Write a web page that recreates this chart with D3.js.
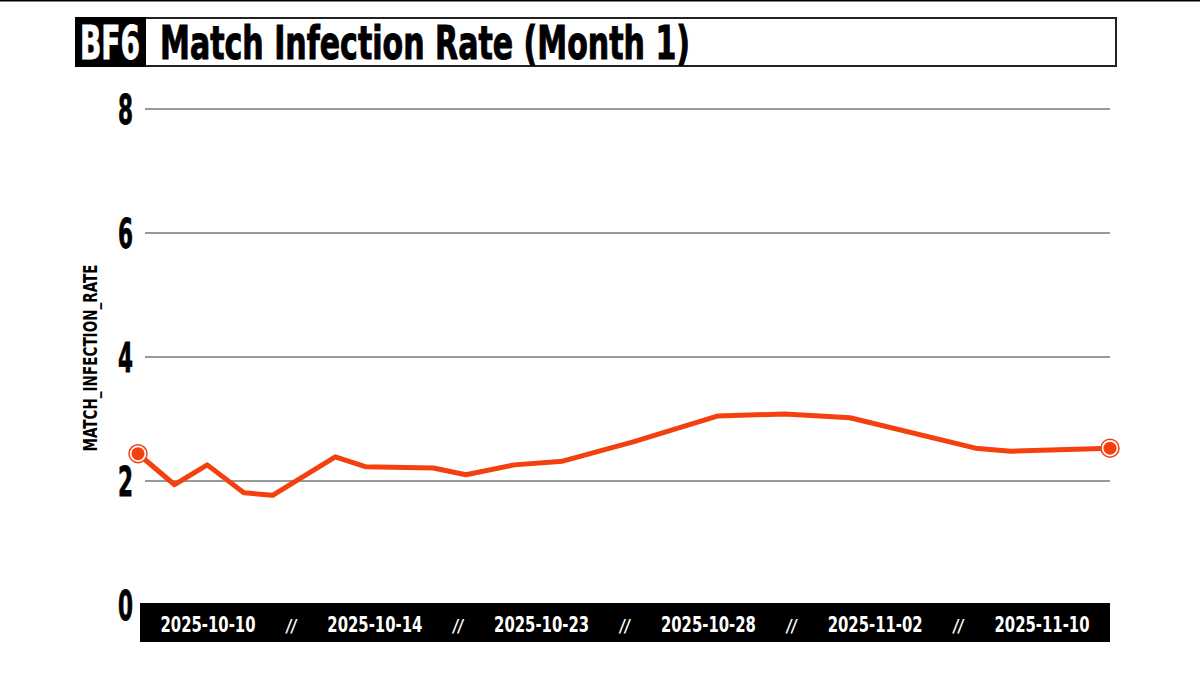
<!DOCTYPE html>
<html>
<head>
<meta charset="utf-8">
<script src="https://cdn.jsdelivr.net/npm/d3@7"></script>
<style>
  html, body { margin: 0; padding: 0; background: #fff; }
  svg { display: block; }
  text { font-family: "DejaVu Sans Condensed", "DejaVu Sans", sans-serif; font-weight: bold; }
</style>
</head>
<body>
<svg id="chart" width="1200" height="675"></svg>
<script>
// ---- data ----
const dates = ["2025-10-10T00:00","2025-10-11T04:00","2025-10-12T05:00","2025-10-13T09:00",
               "2025-10-14T07:00","2025-10-16T07:00","2025-10-17T06:00","2025-10-19T10:00",
               "2025-10-20T11:00","2025-10-22T00:00","2025-10-23T13:00","2025-10-25T19:00",
               "2025-10-28T12:00","2025-10-30T15:00","2025-11-01T17:00","2025-11-05T17:00",
               "2025-11-06T20:00","2025-11-10T00:00"];
const rates = [2.44, 1.94, 2.26, 1.81, 1.77, 2.39, 2.23, 2.21, 2.10, 2.26, 2.32, 2.63,
               3.05, 3.08, 3.02, 2.53, 2.48, 2.53];
const yTicks = [0, 2, 4, 6, 8];
const xTickLabels = ["2025-10-10","2025-10-14","2025-10-23","2025-10-28","2025-11-02","2025-11-10"];
const badge = "BF6";
const title = "Match Infection Rate (Month 1)";
const yTitle = "MATCH_INFECTION_RATE";

// ---- setup ----
const svg = d3.select("#chart");
const parse = d3.timeParse("%Y-%m-%dT%H:%M");
const data = dates.map((d, i) => ({ date: parse(d), value: rates[i] }));
const lineColor = "#f4400f";

const x = d3.scaleTime().domain(d3.extent(data, d => d.date)).range([138, 1110]);
const y = d3.scaleLinear().domain([0, 8]).range([605, 109]);

// top rule
svg.append("rect").attr("x", 0).attr("y", 0).attr("width", 1200).attr("height", 1.5).attr("fill", "#000");

// title box
svg.append("rect").attr("x", 145).attr("y", 18).attr("width", 971).attr("height", 48)
  .attr("fill", "#fff").attr("stroke", "#222").attr("stroke-width", 2);
svg.append("rect").attr("x", 75).attr("y", 17).attr("width", 71).attr("height", 50).attr("fill", "#000");
svg.append("text").attr("x", 110).attr("y", 59).attr("text-anchor", "middle")
  .attr("font-size", 46).attr("fill", "#fff").attr("stroke", "#fff").attr("stroke-width", 0.8)
  .attr("textLength", 60).attr("lengthAdjust", "spacingAndGlyphs").text(badge);
svg.append("text").attr("x", 160).attr("y", 59)
  .attr("font-size", 47).attr("fill", "#000").attr("stroke", "#000").attr("stroke-width", 1)
  .attr("textLength", 530).attr("lengthAdjust", "spacingAndGlyphs").text(title);

// grid
const grid = svg.append("g");
grid.selectAll("line").data(yTicks.filter(t => t > 0)).join("line")
  .attr("x1", 145).attr("x2", 1110)
  .attr("y1", d => y(d)).attr("y2", d => y(d))
  .attr("stroke", "#777").attr("stroke-width", 1.5);

// y axis
const yAxis = d3.axisLeft(y).tickValues(yTicks).tickSize(0).tickPadding(0);
const yg = svg.append("g").attr("transform", "translate(133,0)").call(yAxis);
yg.select(".domain").remove();
yg.selectAll("text")
  .attr("x", 0).attr("dy", null).attr("dominant-baseline", "central")
  .attr("font-size", 40).attr("fill", "#000").attr("stroke", "#000").attr("stroke-width", 0.8)
  .attr("font-family", "DejaVu Sans Condensed, DejaVu Sans, sans-serif")
  .attr("font-weight", "bold")
  .attr("textLength", 15).attr("lengthAdjust", "spacingAndGlyphs");

// y title
svg.append("text").attr("transform", "translate(97,358) rotate(-90)")
  .attr("text-anchor", "middle").attr("font-size", 19).attr("fill", "#000")
  .attr("textLength", 187).attr("lengthAdjust", "spacingAndGlyphs").text(yTitle);

// x band
svg.append("rect").attr("x", 140).attr("y", 603).attr("width", 970).attr("height", 39).attr("fill", "#000");
const xb = d3.scalePoint().domain(xTickLabels).range([208, 1042]);
svg.append("g").selectAll("text").data(xTickLabels).join("text")
  .attr("x", d => xb(d)).attr("y", 632).attr("text-anchor", "middle")
  .attr("font-size", 22).attr("fill", "#fff")
  .attr("textLength", 95).attr("lengthAdjust", "spacingAndGlyphs")
  .text(d => d);
svg.append("g").selectAll("text").data(xTickLabels.slice(1)).join("text")
  .attr("x", (d, i) => (xb(xTickLabels[i]) + xb(d)) / 2).attr("y", 632).attr("text-anchor", "middle")
  .attr("font-size", 18).attr("font-style", "italic").attr("fill", "#fff")
  .attr("textLength", 10).attr("lengthAdjust", "spacingAndGlyphs")
  .text("//");

// line
const line = d3.line().x(d => x(d.date)).y(d => y(d.value));
svg.append("path").datum(data).attr("d", line)
  .attr("fill", "none").attr("stroke", lineColor).attr("stroke-width", 5)
  .attr("stroke-linejoin", "round").attr("stroke-linecap", "round");

// end markers
const ends = [data[0], data[data.length - 1]];
const mk = svg.append("g");
mk.selectAll("circle.ring").data(ends).join("circle").attr("class", "ring")
  .attr("cx", d => x(d.date)).attr("cy", d => y(d.value)).attr("r", 9)
  .attr("fill", "#fff").attr("stroke", lineColor).attr("stroke-width", 1.5);
mk.selectAll("circle.dot").data(ends).join("circle").attr("class", "dot")
  .attr("cx", d => x(d.date)).attr("cy", d => y(d.value)).attr("r", 6.5)
  .attr("fill", lineColor);
</script>
</body>
</html>
